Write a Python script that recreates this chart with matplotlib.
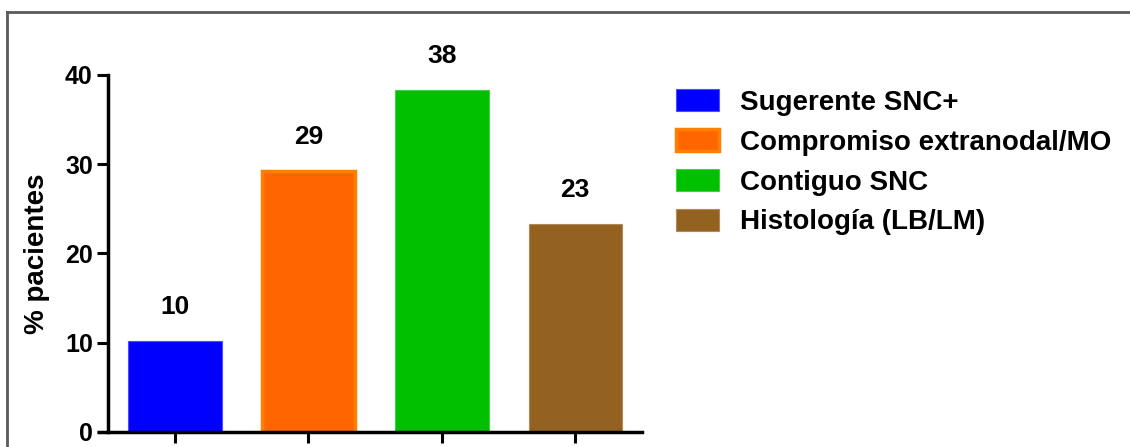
import matplotlib.pyplot as plt
from matplotlib.patches import Patch
from matplotlib.lines import Line2D

plt.rcParams['font.family'] = ['Liberation Sans', 'DejaVu Sans']
plt.rcParams['font.weight'] = 'bold'

categories = ["Sugerente SNC+", "Compromiso extranodal/MO", "Contiguo SNC", "Histología (LB/LM)"]
values = [10.2, 29.2, 38.3, 23.3]
labels = ["10", "29", "38", "23"]
face_colors = ["#0000FF", "#FF6600", "#00C000", "#946220"]
edge_colors = ["#4D4DFF", "#FF8000", "#40D040", "#B08A5A"]
edge_widths = [0.8, 2.5, 0.8, 0.8]

fig = plt.figure(figsize=(11.3, 4.47), dpi=100)
ax = fig.add_axes([0.0956, 0.0336, 0.4726, 0.7987])

x = range(len(categories))
bars = ax.bar(x, values, width=0.70, color=face_colors, edgecolor=edge_colors,
              linewidth=edge_widths)

for xi, v, lab in zip(x, values, labels):
    ax.annotate(lab, (xi, v), xytext=(0, 24.5), textcoords='offset points',
                ha='center', va='center', fontsize=19, fontweight='bold')

ax.set_xlim(-0.5, 3.5)
ax.set_ylim(0, 40)
ax.set_yticks([0, 10, 20, 30, 40])
ax.set_xticks(list(x))
ax.set_xticklabels([])
ax.tick_params(axis='y', labelsize=18, width=2.2, length=8, pad=3)
ax.tick_params(axis='x', width=2.2, length=8, direction='out')
for lab in ax.get_yticklabels():
    lab.set_fontweight('bold')
ax.set_ylabel("% pacientes", fontsize=20, fontweight='bold', labelpad=11)

for side in ['top', 'right']:
    ax.spines[side].set_visible(False)
for side in ['left', 'bottom']:
    ax.spines[side].set_linewidth(2.5)
ax.spines['bottom'].set_bounds(-0.57, 3.5)

handles = [Patch(facecolor=fc, edgecolor=ec, linewidth=lw)
           for fc, ec, lw in zip(face_colors, edge_colors, edge_widths)]
leg = fig.legend(handles, categories, loc='upper left', bbox_to_anchor=(0.588, 0.825),
                 frameon=False, fontsize=20, handlelength=1.55, handleheight=0.83,
                 handletextpad=0.78, labelspacing=0.48, borderaxespad=0)
for t in leg.get_texts():
    t.set_fontweight('bold')

# outer frame (top and left only visible)
fig.add_artist(Line2D([7 / 1130, 7 / 1130], [0, 1 - 12 / 447], transform=fig.transFigure,
                      color='#5a5a5a', linewidth=2))
fig.add_artist(Line2D([7 / 1130, 1], [1 - 12 / 447, 1 - 12 / 447], transform=fig.transFigure,
                      color='#5a5a5a', linewidth=2))

fig.savefig("out.png", dpi=100)
